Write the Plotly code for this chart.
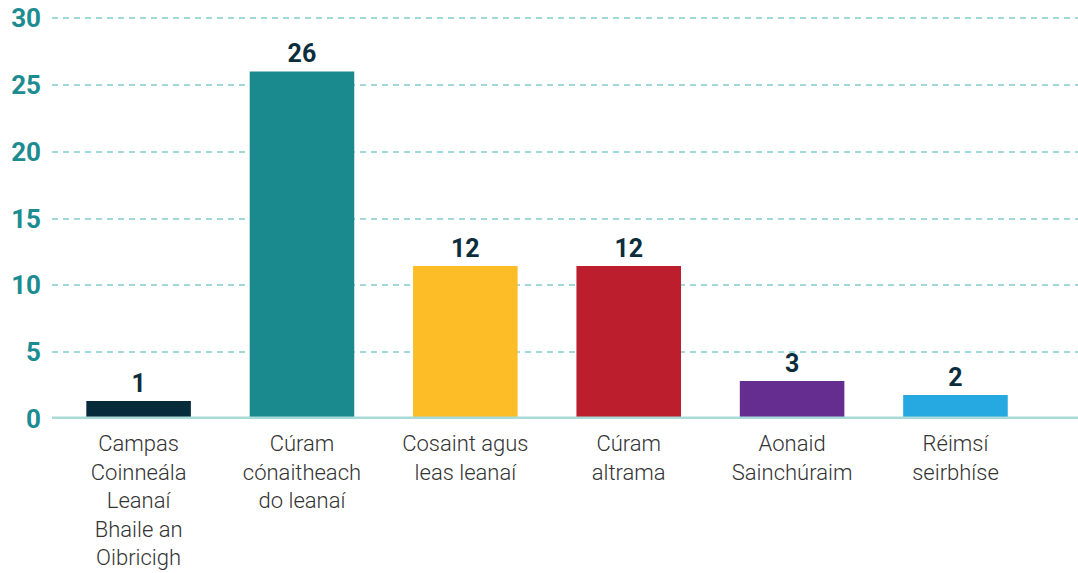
import plotly.graph_objects as go

categories = [
    "Campas<br>Coinneála<br>Leanaí<br>Bhaile an<br>Oibricigh",
    "Cúram<br>cónaitheach<br>do leanaí",
    "Cosaint agus<br>leas leanaí",
    "Cúram<br>altrama",
    "Aonaid<br>Sainchúraim",
    "Réimsí<br>seirbhíse",
]
bar_heights = [1.35, 26.0, 11.45, 11.45, 2.85, 1.8]
label_values = [1, 26, 12, 12, 3, 2]
bar_colors = ["#062b3a", "#1b8a8f", "#fdbd27", "#bd1e2d", "#652d8f", "#25a9e0"]
y_ticks = [0, 5, 10, 15, 20, 25, 30]

fig = go.Figure()
fig.add_trace(go.Bar(
    x=categories,
    y=bar_heights,
    marker=dict(color=bar_colors, line=dict(width=0)),
    text=[str(v) for v in label_values],
    textposition="outside",
    textfont=dict(family="Roboto", size=25, color="#0b2d3c", weight="bold"),
    cliponaxis=False,
    hoverinfo="skip",
))

fig.add_shape(type="line", xref="paper", x0=0, x1=1, yref="y", y0=0, y1=0,
              line=dict(color="#a8dbd8", width=5), layer="above")

fig.update_layout(
    width=1078, height=573,
    margin=dict(l=52, r=0, t=14, b=154),
    plot_bgcolor="white", paper_bgcolor="white",
    bargap=0.36,
    showlegend=False,
    xaxis=dict(
        range=[-0.53, 5.75],
        automargin=False,
        showgrid=False, showline=False, zeroline=False,
        tickfont=dict(family="Roboto", size=22, color="#333333", weight=300),
        ticks="",
        ticklabelstandoff=9,
    ),
    yaxis=dict(
        range=[0, 30.3],
        automargin=False,
        tickvals=y_ticks,
        showgrid=True, gridcolor="#9fd9d9", gridwidth=1.5, griddash="6px,5px",
        zeroline=False, showline=False,
        tickfont=dict(family="Roboto", size=26, color="#1d8c91", weight="bold"),
        ticklabelstandoff=10,
    ),
)

fig.write_html("out.html", config={"displayModeBar": False},
               post_script="document.body.style.margin='0';")
